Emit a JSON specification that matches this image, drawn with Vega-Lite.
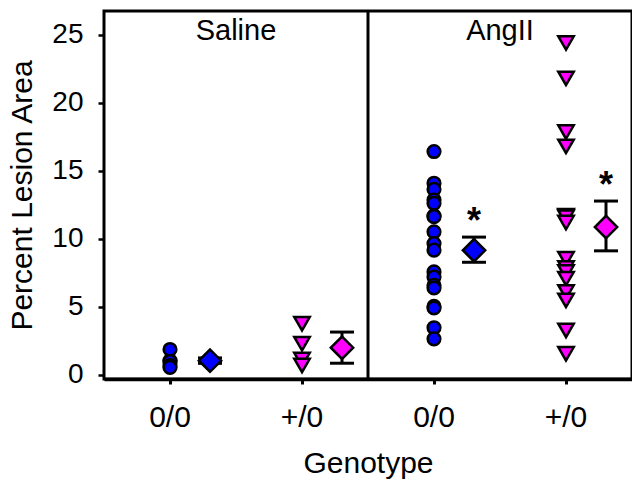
{
  "$schema": "https://vega.github.io/schema/vega-lite/v6.json",
  "width": 528,
  "height": 368,
  "autosize": {"type": "none"},
  "padding": {"left": 104, "top": 11, "right": 0, "bottom": 101},
  "background": "white",
  "config": {
    "font": "Liberation Sans",
    "view": {"stroke": "black", "strokeWidth": 3},
    "axis": {
      "labelFont": "Liberation Sans",
      "titleFont": "Liberation Sans",
      "labelColor": "black",
      "titleColor": "black",
      "tickColor": "black",
      "domainColor": "black",
      "labelFontSize": 28,
      "titleFontSize": 30,
      "titleFontWeight": "normal",
      "grid": false
    }
  },
  "datasets": {
    "points": [
      {"group": "Saline 0/0", "genotype": "0/0", "value": 1.05},
      {"group": "Saline 0/0", "genotype": "0/0", "value": 1.87},
      {"group": "Saline 0/0", "genotype": "0/0", "value": 0.98},
      {"group": "Saline 0/0", "genotype": "0/0", "value": 0.69},
      {"group": "Saline 0/0", "genotype": "0/0", "value": 0.55},
      {"group": "Saline +/0", "genotype": "+/0", "value": 3.76},
      {"group": "Saline +/0", "genotype": "+/0", "value": 2.29},
      {"group": "Saline +/0", "genotype": "+/0", "value": 1.13},
      {"group": "Saline +/0", "genotype": "+/0", "value": 0.69},
      {"group": "AngII 0/0", "genotype": "0/0", "value": 16.42},
      {"group": "AngII 0/0", "genotype": "0/0", "value": 14.09},
      {"group": "AngII 0/0", "genotype": "0/0", "value": 13.64},
      {"group": "AngII 0/0", "genotype": "0/0", "value": 12.86},
      {"group": "AngII 0/0", "genotype": "0/0", "value": 12.61},
      {"group": "AngII 0/0", "genotype": "0/0", "value": 11.7},
      {"group": "AngII 0/0", "genotype": "0/0", "value": 11.63},
      {"group": "AngII 0/0", "genotype": "0/0", "value": 10.52},
      {"group": "AngII 0/0", "genotype": "0/0", "value": 9.66},
      {"group": "AngII 0/0", "genotype": "0/0", "value": 9.17},
      {"group": "AngII 0/0", "genotype": "0/0", "value": 7.57},
      {"group": "AngII 0/0", "genotype": "0/0", "value": 7.2},
      {"group": "AngII 0/0", "genotype": "0/0", "value": 6.59},
      {"group": "AngII 0/0", "genotype": "0/0", "value": 6.39},
      {"group": "AngII 0/0", "genotype": "0/0", "value": 5.04},
      {"group": "AngII 0/0", "genotype": "0/0", "value": 4.92},
      {"group": "AngII 0/0", "genotype": "0/0", "value": 3.47},
      {"group": "AngII 0/0", "genotype": "0/0", "value": 2.65},
      {"group": "AngII +/0", "genotype": "+/0", "value": 24.4},
      {"group": "AngII +/0", "genotype": "+/0", "value": 21.8},
      {"group": "AngII +/0", "genotype": "+/0", "value": 17.85},
      {"group": "AngII +/0", "genotype": "+/0", "value": 16.8},
      {"group": "AngII +/0", "genotype": "+/0", "value": 11.7},
      {"group": "AngII +/0", "genotype": "+/0", "value": 11.6},
      {"group": "AngII +/0", "genotype": "+/0", "value": 11.2},
      {"group": "AngII +/0", "genotype": "+/0", "value": 8.55},
      {"group": "AngII +/0", "genotype": "+/0", "value": 7.87},
      {"group": "AngII +/0", "genotype": "+/0", "value": 7.57},
      {"group": "AngII +/0", "genotype": "+/0", "value": 7.08},
      {"group": "AngII +/0", "genotype": "+/0", "value": 6.1},
      {"group": "AngII +/0", "genotype": "+/0", "value": 5.48},
      {"group": "AngII +/0", "genotype": "+/0", "value": 3.27},
      {"group": "AngII +/0", "genotype": "+/0", "value": 1.55}
    ],
    "summary": [
      {"group": "Saline 0/0", "genotype": "0/0", "mean": 1.05, "lo": 0.85, "hi": 1.25, "sig": ""},
      {"group": "Saline +/0", "genotype": "+/0", "mean": 2.0, "lo": 0.86, "hi": 3.15, "sig": ""},
      {"group": "AngII 0/0", "genotype": "0/0", "mean": 9.16, "lo": 8.28, "hi": 10.13, "sig": "*"},
      {"group": "AngII +/0", "genotype": "+/0", "mean": 10.87, "lo": 9.12, "hi": 12.78, "sig": "*"}
    ],
    "panels": [
      {"group": "Saline +/0", "label": "Saline"},
      {"group": "AngII +/0", "label": "AngII"}
    ],
    "divider": [
      {"group": "AngII 0/0"}
    ]
  },
  "encoding": {
    "x": {
      "field": "group",
      "type": "nominal",
      "sort": null,
      "scale": {
        "domain": ["Saline 0/0", "Saline +/0", "AngII 0/0", "AngII +/0"],
        "paddingInner": 0,
        "paddingOuter": 0
      },
      "axis": {
        "title": "Genotype",
        "labelExpr": "split(datum.value, ' ')[1]",
        "labelAngle": 0,
        "labelFontSize": 30,
        "domain": true,
        "domainWidth": 3.3,
        "tickSize": 5,
        "tickWidth": 3,
        "labelPadding": 18,
        "titlePadding": 16
      }
    }
  },
  "layer": [
    {
      "data": {"name": "divider"},
      "mark": {"type": "rule", "color": "black", "strokeWidth": 3},
      "encoding": {
        "x": {"field": "group", "type": "nominal", "bandPosition": 0}
      }
    },
    {
      "data": {"name": "panels"},
      "mark": {"type": "text", "fontSize": 29, "color": "black", "baseline": "alphabetic", "align": "center"},
      "encoding": {
        "x": {"field": "group", "type": "nominal", "bandPosition": 0},
        "y": {"datum": 24.63, "type": "quantitative"},
        "text": {"field": "label"}
      }
    },
    {
      "data": {"name": "points"},
      "mark": {"type": "point", "filled": true, "stroke": "black", "strokeWidth": 2.5, "opacity": 1},
      "encoding": {
        "y": {
          "field": "value",
          "type": "quantitative",
          "title": "Percent Lesion Area",
          "scale": {"domain": [-0.3, 26.75], "nice": false, "zero": false},
          "axis": {
            "values": [0, 5, 10, 15, 20, 25],
            "tickSize": 6,
            "tickWidth": 2.5,
            "labelPadding": 15,
            "titlePadding": 14,
            "domain": false
          }
        },
        "shape": {
          "field": "genotype",
          "type": "nominal",
          "scale": {"domain": ["0/0", "+/0"], "range": ["circle", "triangle-down"]},
          "legend": null
        },
        "size": {
          "field": "genotype",
          "type": "nominal",
          "scale": {"domain": ["0/0", "+/0"], "range": [160, 240]},
          "legend": null
        },
        "fill": {
          "field": "genotype",
          "type": "nominal",
          "scale": {"domain": ["0/0", "+/0"], "range": ["#0000ff", "#ff00ff"]},
          "legend": null
        }
      }
    },
    {
      "data": {"name": "summary"},
      "mark": {"type": "rule", "color": "black", "strokeWidth": 3, "xOffset": 40},
      "encoding": {
        "y": {"field": "lo", "type": "quantitative", "title": "Percent Lesion Area"},
        "y2": {"field": "hi"}
      }
    },
    {
      "data": {"name": "summary"},
      "mark": {"type": "tick", "color": "black", "thickness": 3, "size": 24, "xOffset": 40, "orient": "horizontal", "opacity": 1},
      "encoding": {
        "y": {"field": "lo", "type": "quantitative", "title": "Percent Lesion Area"}
      }
    },
    {
      "data": {"name": "summary"},
      "mark": {"type": "tick", "color": "black", "thickness": 3, "size": 24, "xOffset": 40, "orient": "horizontal", "opacity": 1},
      "encoding": {
        "y": {"field": "hi", "type": "quantitative", "title": "Percent Lesion Area"}
      }
    },
    {
      "data": {"name": "summary"},
      "mark": {"type": "point", "shape": "diamond", "size": 500, "filled": true, "stroke": "black", "strokeWidth": 2.5, "opacity": 1, "xOffset": 40},
      "encoding": {
        "y": {"field": "mean", "type": "quantitative", "title": "Percent Lesion Area"},
        "fill": {"field": "genotype", "type": "nominal", "legend": null}
      }
    },
    {
      "data": {"name": "summary"},
      "mark": {"type": "text", "fontSize": 36, "fontWeight": "bold", "color": "black", "baseline": "alphabetic", "align": "center", "xOffset": 40, "dy": -4},
      "encoding": {
        "y": {"field": "hi", "type": "quantitative", "title": "Percent Lesion Area"},
        "text": {"field": "sig"}
      }
    }
  ]
}
